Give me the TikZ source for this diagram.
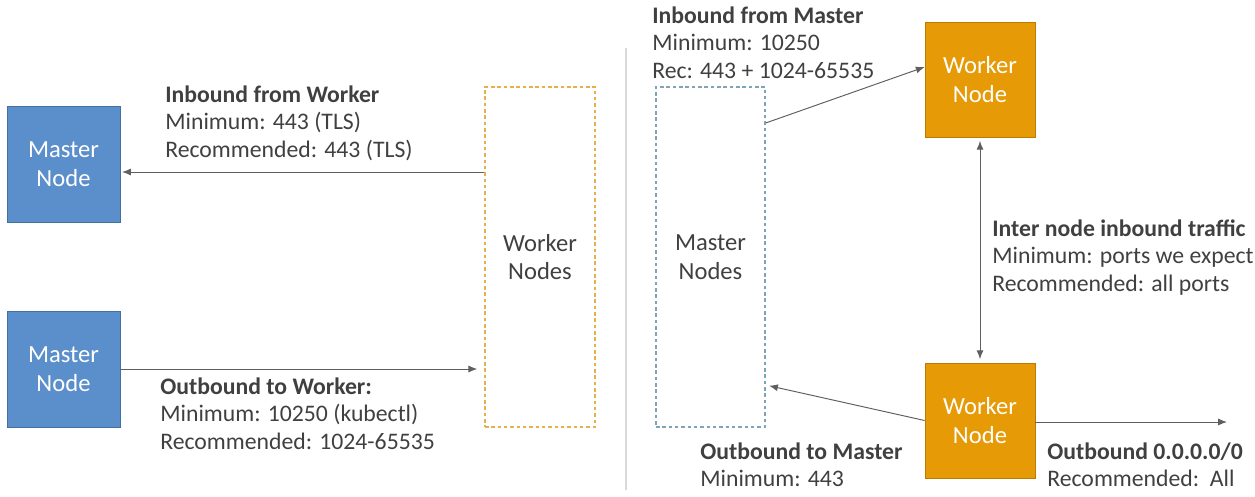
\documentclass[tikz,border=0pt]{standalone}
\usepackage{fontspec}
\setmainfont{Carlito}
\usetikzlibrary{arrows.meta}
\definecolor{masterblue}{HTML}{5B8FCB}
\definecolor{masterline}{HTML}{41719C}
\definecolor{workerorange}{HTML}{E69A05}
\definecolor{workerline}{HTML}{BA7C00}
\definecolor{dashorange}{HTML}{E8B04A}
\definecolor{dashblue}{HTML}{7FA3B8}
\definecolor{textgrey}{HTML}{404040}
\definecolor{arrowgrey}{HTML}{5F5F5F}
\tikzset{
    every node/.style={font=\fontsize{13.5}{15.9}\selectfont, text=textgrey},
    masterbox/.style={draw=masterline, fill=masterblue, text=white, align=center,
        font=\fontsize{14}{16.4}\selectfont,
        minimum width=2.26cm, minimum height=2.32cm, inner sep=0pt},
    workerbox/.style={draw=workerline, fill=workerorange, text=white, align=center,
        font=\fontsize{14}{16.4}\selectfont,
        minimum width=2.2cm, minimum height=2.3cm, inner sep=0pt},
    groupbox/.style={dash pattern=on 2pt off 1.6pt, line width=0.8pt, align=center,
        font=\fontsize{14}{16.4}\selectfont,
        minimum width=2.2cm, minimum height=6.8cm, inner sep=0pt},
    label/.style={anchor=north west, align=left, inner sep=0pt},
    conn/.style={draw=arrowgrey, line width=0.55pt, -{Latex[length=5pt,width=4pt]}}
}
\begin{document}
\begin{tikzpicture}
        \useasboundingbox (0,0) rectangle (25.1,-9.92);

        % Left half: worker side rules
        \node [masterbox] (master1) at (1.27, -3.28) {Master\\Node};
        \node [masterbox] (master2) at (1.27, -7.38) {Master\\Node};
        \node [groupbox, draw=dashorange] (workers) at (10.8, -5.14) {Worker\\Nodes};

        \node [label] (inworker) at (3.30, -1.70)
            {\textbf{Inbound from Worker}\\Minimum: 443 (TLS)\\Recommended: 443 (TLS)};
        \node [label] (outworker) at (3.20, -7.54)
            {\textbf{Outbound to Worker:}\\Minimum: 10250 (kubectl)\\Recommended: 1024-65535};

        % Separator
        \coordinate (septop) at (12.52, -0.96);
        \coordinate (sepbot) at (12.52, -9.80);
        \draw[color=black!15, line width=0.8pt] (septop) -- (sepbot);

        % Right half: master side rules
        \node [groupbox, draw=dashblue, minimum width=2.18cm] (masters) at (14.21, -5.14) {Master\\Nodes};
        \node [workerbox] (worker1) at (19.6, -1.59) {Worker\\Node};
        \node [workerbox] (worker2) at (19.6, -8.41) {Worker\\Node};
        \coordinate (anywhere) at (24.54, -8.44);

        \node [label] (inmaster) at (13.04, -0.12)
            {\textbf{Inbound from Master}\\Minimum: 10250\\Rec: 443 + 1024-65535};
        \node [label] (internode) at (19.84, -4.38)
            {\textbf{Inter node inbound traffic}\\Minimum: ports we expect\\Recommended: all ports};
        \node [label] (outmaster) at (14.0, -8.84)
            {\textbf{Outbound to Master}\\Minimum: 443};
        \node [label] (outany) at (20.94, -8.84)
            {\textbf{Outbound 0.0.0.0/0}\\Recommended:\ \ All};

        % Edges
        \draw[conn] ([yshift=1.70cm]workers.west) -- ([yshift=-0.16cm,xshift=1pt]master1.east);
        \draw[conn, shorten >=4pt] (master2.east) -- (workers.west |- master2.east);
        \draw[conn] ([yshift=2.68cm]masters.east) -- ([yshift=0.25cm]worker1.west);
        \draw[conn, {Latex[length=5pt,width=4pt]}-{Latex[length=5pt,width=4pt]}, shorten <=2pt, shorten >=2pt]
            (worker1.south) -- (worker2.north);
        \draw[conn, shorten >=2pt] (worker2.west) -- ([yshift=-2.56cm]masters.east);
        \draw[conn] ([yshift=-0.03cm]worker2.east) -- (anywhere);
    \end{tikzpicture}
\end{document}
